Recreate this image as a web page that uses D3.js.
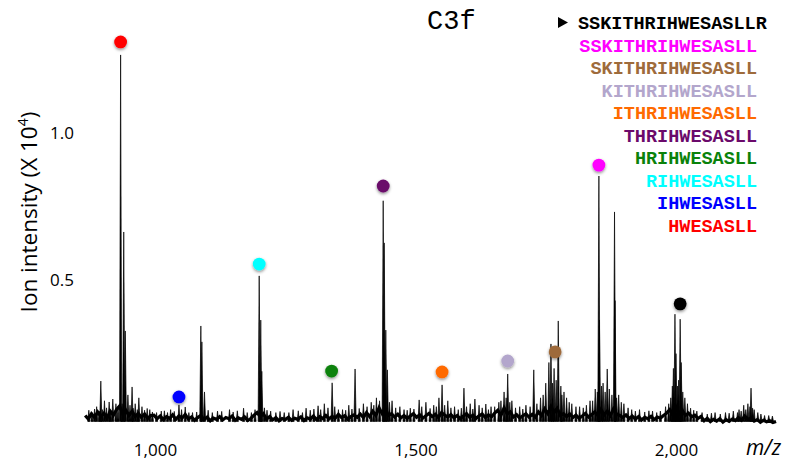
<!DOCTYPE html>
<html>
<head>
<meta charset="utf-8">
<script src="https://cdn.jsdelivr.net/npm/d3@7"></script>
<style>
  body { margin: 0; background: #fff; }
  svg { display: block; }
</style>
</head>
<body>
<div id="chart"></div>
<script>
// spectrum data (intensity in units of 10^4)
const noiseStart = 866;
const noiseStep = 6;
const noise = [
  0.040,0.028,0.046,0.033,0.052,0.036,0.048,0.030,0.055,0.041,0.060,
  0.072,0.046,0.058,0.040,0.054,0.036,0.047,0.033,0.045,0.030,0.040,
  0.041,0.029,0.038,0.026,0.036,0.030,0.042,0.027,0.039,0.031,0.044,
  0.028,0.035,0.024,0.033,0.040,0.026,0.034,0.022,0.031,0.027,0.036,
  0.025,0.033,0.029,0.038,0.024,0.032,0.027,0.035,0.023,0.030,0.041,
  0.050,0.036,0.046,0.028,0.036,0.025,0.033,0.022,0.030,0.026,0.034,
  0.024,0.031,0.027,0.035,0.023,0.032,0.028,0.038,0.026,0.036,0.030,
  0.040,0.029,0.037,0.031,0.044,0.033,0.039,0.028,0.036,0.042,0.034,
  0.045,0.033,0.050,0.036,0.054,0.040,0.066,0.046,0.062,0.040,0.046,
  0.035,0.044,0.032,0.040,0.030,0.038,0.046,0.034,0.042,0.031,0.039,
  0.047,0.036,0.044,0.033,0.050,0.041,0.035,0.043,0.032,0.040,0.029,
  0.038,0.046,0.034,0.041,0.030,0.039,0.045,0.033,0.042,0.036,0.048,
  0.058,0.040,0.066,0.045,0.052,0.035,0.043,0.031,0.039,0.046,0.034,
  0.044,0.034,0.052,0.040,0.062,0.046,0.070,0.050,0.064,0.040,0.046,
  0.036,0.045,0.033,0.041,0.030,0.038,0.047,0.035,0.043,0.052,0.040,
  0.060,0.042,0.055,0.040,0.062,0.044,0.040,0.033,0.042,0.030,0.038,
  0.028,0.036,0.025,0.034,0.029,0.037,0.026,0.035,0.031,0.040,0.048,
  0.060,0.042,0.068,0.046,0.058,0.040,0.048,0.036,0.041,0.030,0.037,
  0.022,0.030,0.019,0.027,0.021,0.029,0.018,0.026,0.020,0.028,0.023,
  0.032,0.024,0.038,0.027,0.030,0.021,0.026,0.017,0.024,0.019,0.022,
  0.016,0.020
];

// [m/z, intensity]
const majorPeaks = [
  [896, 0.157], [912, 0.086], [919, 0.096], [934, 1.264], [940, 0.663], [943, 0.327],
  [956, 0.137], [969, 0.100], [1046, 0.076], [1058, 0.069], [1088, 0.344], [1090, 0.29],
  [1200, 0.514], [1203, 0.364], [1205, 0.190], [1313, 0.073], [1340, 0.151], [1384, 0.198],
  [1438, 0.769], [1440, 0.626], [1443, 0.330], [1446, 0.195], [1507, 0.093], [1551, 0.144],
  [1593, 0.133], [1614, 0.096], [1635, 0.079], [1677, 0.181], [1727, 0.195], [1760, 0.283],
  [1766, 0.200], [1774, 0.361], [1781, 0.110], [1852, 0.853], [1853, 0.364], [1868, 0.198],
  [1882, 0.731], [1883, 0.430], [1998, 0.384], [2000, 0.25], [2008, 0.367], [2010, 0.22],
  [2121, 0.060], [2144, 0.133]
];

const minorPeaks = [
  [888, 0.07], [903, 0.09], [925, 0.08], [948, 0.11], [962, 0.08], [975, 0.07], [990, 0.06],
  [1012, 0.055], [1030, 0.06], [1072, 0.05], [1095, 0.12], [1120, 0.055], [1143, 0.06],
  [1170, 0.065], [1185, 0.05], [1222, 0.055], [1248, 0.05], [1265, 0.06], [1290, 0.065],
  [1325, 0.08], [1345, 0.07], [1360, 0.06], [1372, 0.075], [1400, 0.08], [1415, 0.085],
  [1425, 0.10], [1455, 0.09], [1470, 0.07], [1490, 0.065], [1520, 0.085], [1535, 0.075],
  [1545, 0.10], [1562, 0.09], [1575, 0.07], [1605, 0.08], [1622, 0.075], [1645, 0.07],
  [1660, 0.085], [1670, 0.12], [1685, 0.09], [1700, 0.07], [1712, 0.075], [1740, 0.10],
  [1750, 0.15], [1756, 0.22], [1779, 0.14], [1790, 0.10], [1800, 0.08], [1815, 0.07],
  [1835, 0.09], [1845, 0.13], [1860, 0.15], [1872, 0.13], [1890, 0.11], [1900, 0.08],
  [1930, 0.06], [1955, 0.055], [1980, 0.07], [1990, 0.10], [1995, 0.20], [2003, 0.14],
  [2013, 0.12], [2022, 0.08], [2040, 0.055], [2075, 0.05], [2095, 0.05], [2110, 0.055],
  [2130, 0.075], [2138, 0.08], [2150, 0.06], [2170, 0.04]
];

// small spikes that poke out of the baseline
const grassPeaks = [
  [873, 0.058], [879, 0.05], [884, 0.062], [893, 0.055], [899, 0.06], [907, 0.066], [915, 0.058],
  [929, 0.07], [937, 0.08], [952, 0.075], [958, 0.065], [966, 0.06], [980, 0.058], [985, 0.064],
  [995, 0.052], [1003, 0.05], [1018, 0.056], [1024, 0.05], [1037, 0.054], [1051, 0.06], [1065, 0.05],
  [1080, 0.052], [1102, 0.058], [1110, 0.05], [1128, 0.054], [1150, 0.052], [1158, 0.056], [1177, 0.05],
  [1192, 0.06], [1210, 0.066], [1215, 0.058], [1232, 0.05], [1240, 0.054], [1257, 0.05], [1275, 0.056],
  [1283, 0.05], [1298, 0.058], [1305, 0.062], [1318, 0.06], [1332, 0.066], [1352, 0.06], [1366, 0.058],
  [1378, 0.062], [1392, 0.064], [1407, 0.07], [1420, 0.075], [1431, 0.09], [1450, 0.085], [1462, 0.066],
  [1478, 0.06], [1484, 0.058], [1497, 0.062], [1512, 0.07], [1528, 0.064], [1540, 0.07], [1556, 0.075],
  [1568, 0.066], [1582, 0.06], [1588, 0.065], [1598, 0.07], [1610, 0.062], [1628, 0.066], [1640, 0.06],
  [1652, 0.07], [1664, 0.09], [1674, 0.10], [1681, 0.085], [1692, 0.066], [1706, 0.062], [1720, 0.07],
  [1733, 0.08], [1745, 0.11], [1763, 0.15], [1770, 0.16], [1785, 0.12], [1795, 0.085], [1808, 0.07],
  [1822, 0.066], [1828, 0.075], [1840, 0.09], [1849, 0.12], [1857, 0.14], [1864, 0.12], [1877, 0.11],
  [1886, 0.10], [1895, 0.085], [1908, 0.066], [1915, 0.06], [1922, 0.055], [1940, 0.052], [1948, 0.056],
  [1963, 0.05], [1970, 0.055], [1986, 0.08], [1993, 0.14], [2005, 0.16], [2017, 0.10], [2028, 0.065],
  [2034, 0.058], [2050, 0.05], [2060, 0.045], [2068, 0.048], [2085, 0.045], [2102, 0.048], [2118, 0.05],
  [2125, 0.055], [2134, 0.06], [2142, 0.07], [2147, 0.065], [2157, 0.05], [2163, 0.045], [2178, 0.04],
  [2185, 0.038]
];

// fragment ions: legend order
const fragments = ["SSKITHRIHWESASLL", "SKITHRIHWESASLL", "KITHRIHWESASLL", "ITHRIHWESASLL",
  "THRIHWESASLL", "HRIHWESASLL", "RIHWESASLL", "IHWESASLL", "HWESASLL"];
const fragmentColors = ["#ff00ff", "#9e6b3b", "#b3a6cc", "#ff6a00", "#6b0a6b", "#0a820a",
  "#00ffff", "#0000ff", "#ff0000"];
const fragmentMz = [1852, 1768, 1677, 1551, 1438, 1339, 1200, 1046, 934];
const fragmentLevel = [0.890, 0.256, 0.225, 0.188, 0.819, 0.191, 0.554, 0.103, 1.308];

const precursor = "SSKITHRIHWESASLLR";
const precursorMz = 2008;
const precursorLevel = 0.419;

const title = "C3f";
const xTicks = [1000, 1500, 2000];
const yTicks = [0.5, 1.0];

const width = 788, height = 466;

const svg = d3.select("#chart").append("svg")
  .attr("width", width)
  .attr("height", height)
  .attr("viewBox", [0, 0, width, height]);

const defs = svg.append("defs");
const shadow = defs.append("filter")
  .attr("id", "dot-shadow")
  .attr("x", "-50%").attr("y", "-50%")
  .attr("width", "200%").attr("height", "200%");
shadow.append("feDropShadow")
  .attr("dx", 0).attr("dy", 1.5)
  .attr("stdDeviation", 1.6)
  .attr("flood-color", "#000")
  .attr("flood-opacity", 0.45);

const x = d3.scaleLinear().domain([1000, 2000]).range([155, 676]);
const y = d3.scaleLinear().domain([0, 1]).range([427.3, 132.7]);

// baseline noise
const noisePts = noise.map((v, i) => [noiseStart + i * noiseStep, v]);
svg.append("path")
  .datum(noisePts)
  .attr("fill", "none")
  .attr("stroke", "#000")
  .attr("stroke-width", 3.2)
  .attr("stroke-linejoin", "miter")
  .attr("d", d3.line().x(d => x(d[0])).y(d => y(d[1])));

// peaks as narrow spikes
const spike = d => {
  const px = x(d[0]), top = y(d[1]), base = y(0.02);
  const p = d3.path();
  p.moveTo(px - 1.1, base);
  p.lineTo(px, top);
  p.lineTo(px + 1.1, base);
  p.closePath();
  return p.toString();
};

svg.append("g")
  .selectAll("path")
  .data(grassPeaks.concat(minorPeaks, majorPeaks))
  .join("path")
  .attr("d", spike)
  .attr("fill", "#000")
  .attr("stroke", "#000")
  .attr("stroke-width", 0.7);

// ion markers
const dots = fragments.map((f, i) => ({ mz: fragmentMz[i], v: fragmentLevel[i], c: fragmentColors[i] }));
dots.push({ mz: precursorMz, v: precursorLevel, c: "#000" });

svg.append("g")
  .selectAll("circle")
  .data(dots)
  .join("circle")
  .attr("cx", d => x(d.mz))
  .attr("cy", d => y(d.v))
  .attr("r", 6.4)
  .attr("fill", d => d.c)
  .attr("filter", "url(#dot-shadow)");

// x axis (labels only)
const xAxis = svg.append("g")
  .attr("transform", `translate(0, ${441})`)
  .call(d3.axisBottom(x).tickValues(xTicks).tickFormat(d3.format(",")).tickSize(0));
xAxis.select(".domain").remove();
xAxis.selectAll("text")
  .attr("font-family", "'Open Sans', sans-serif")
  .attr("font-size", 17)
  .attr("fill", "#000");

svg.append("text")
  .attr("x", 746)
  .attr("y", 455)
  .attr("font-family", "'Open Sans', sans-serif")
  .attr("font-style", "italic")
  .attr("font-size", 21)
  .text("m/z");

// y axis (labels only)
const yAxis = svg.append("g")
  .attr("transform", "translate(74, 0)")
  .call(d3.axisLeft(y).tickValues(yTicks).tickFormat(d3.format(".1f")).tickSize(0).tickPadding(0));
yAxis.select(".domain").remove();
yAxis.selectAll("text")
  .attr("font-family", "'Open Sans', sans-serif")
  .attr("font-size", 17)
  .attr("fill", "#000");

const yTitle = svg.append("text")
  .attr("transform", "translate(37, 212) rotate(-90)")
  .attr("text-anchor", "middle")
  .attr("font-family", "'Open Sans', sans-serif")
  .attr("font-size", 22.5);
yTitle.append("tspan").text("Ion intensity (X 10");
yTitle.append("tspan").attr("dy", -9).attr("font-size", 14).text("4");
yTitle.append("tspan").attr("dy", 9).text(")");

// title
svg.append("text")
  .attr("x", 427)
  .attr("y", 29)
  .attr("font-family", "'Liberation Mono', 'Courier New', monospace")
  .attr("font-size", 27)
  .text(title);

// legend
const legendFont = "'Liberation Mono', 'Courier New', monospace";
svg.append("path")
  .attr("d", "M558,17 L568,22.5 L558,28 Z")
  .attr("fill", "#000");
svg.append("text")
  .attr("x", 578)
  .attr("y", 29)
  .attr("font-family", legendFont)
  .attr("font-weight", "bold")
  .attr("font-size", 18.5)
  .attr("fill", "#000")
  .text(precursor);

svg.append("g")
  .selectAll("text")
  .data(fragments)
  .join("text")
  .attr("x", 757)
  .attr("y", (d, i) => 51.5 + i * 22.5)
  .attr("text-anchor", "end")
  .attr("font-family", legendFont)
  .attr("font-weight", "bold")
  .attr("font-size", 18.5)
  .attr("fill", (d, i) => fragmentColors[i])
  .text(d => d);
</script>
</body>
</html>
